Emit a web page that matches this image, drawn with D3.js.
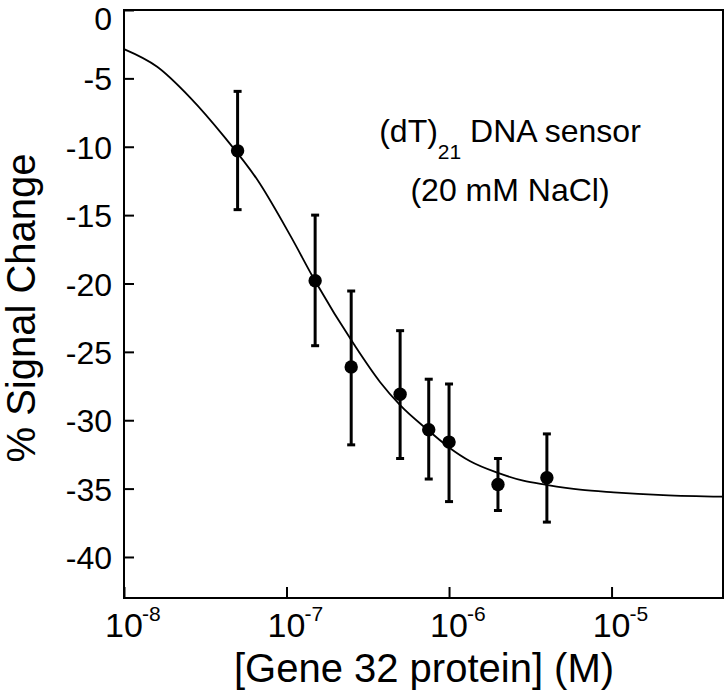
<!DOCTYPE html>
<html>
<head>
<meta charset="utf-8">
<script src="https://cdn.jsdelivr.net/npm/d3@7"></script>
<style>
  body { margin: 0; background: #fff; }
  text { font-family: "Liberation Sans", Arial, sans-serif; fill: #000; }
</style>
</head>
<body>
<script>
    // measured data points: concentration (M) and % signal change
    const conc = [5e-8, 1.5e-7, 2.5e-7, 5e-7, 7.5e-7, 1e-6, 2e-6, 4e-6];
    const signal = [-10.3, -19.8, -26.1, -28.1, -30.7, -31.6, -34.7, -34.2];
    const errTop = [-5.95, -15.0, -20.55, -23.45, -27.0, -27.35, -32.8, -31.0];
    const errBottom = [-14.6, -24.55, -31.8, -32.8, -34.3, -35.95, -36.6, -37.45];

    // fitted curve
    const fitConc = [1e-8, 1.6e-8, 2.57e-8, 4.12e-8, 6.6e-8, 1.06e-7, 1.5e-7, 2.6e-7, 3.76e-7,
      5e-7, 7.5e-7, 1e-6, 1.35e-6, 2e-6, 2.86e-6, 3.97e-6, 6.4e-6, 1.03e-5, 2.08e-5, 4.85e-5];
    const fitSignal = [-2.86, -4.15, -6.44, -9.24, -12.4, -16.54, -19.82, -24.45, -27.2,
      -28.9, -30.77, -31.99, -33.0, -33.85, -34.42, -34.72, -35.08, -35.27, -35.47, -35.59];

    // axis ticks
    const xTicks = [1e-8, 1e-7, 1e-6, 1e-5];
    const xExponents = ["-8", "-7", "-6", "-5"];
    const yTicks = [0, -5, -10, -15, -20, -25, -30, -35, -40];

    const width = 725;
    const height = 692;
    const plotL = 124, plotR = 723, plotT = 10, plotB = 598;

    const svg = d3.select("body")
      .append("svg")
      .attr("width", width)
      .attr("height", height);

    const x = d3.scaleLog().domain([1e-8, 4.85e-5]).range([plotL, plotR]);
    const y = d3.scaleLinear().domain([-43, 0]).range([plotB, plotT]);

    // y axis, inward ticks
    const yAxis = svg.append("g")
      .attr("transform", `translate(${plotL},0)`)
      .call(d3.axisLeft(y).tickValues(yTicks).tickSize(-10).tickPadding(12).tickFormat(d => d));
    yAxis.select(".domain").remove();
    yAxis.selectAll(".tick line").attr("stroke", "#000").attr("stroke-width", 2);
    yAxis.selectAll(".tick text")
      .attr("font-size", 32)
      .attr("font-family", '"Liberation Sans", Arial, sans-serif')
      .attr("dy", d => d === 0 ? "0.6em" : "0.36em");

    // x axis, inward ticks and custom labels
    const xAxis = svg.append("g")
      .attr("transform", `translate(0,${plotB})`)
      .call(d3.axisBottom(x).tickValues(xTicks).tickSize(-11).tickFormat(""));
    xAxis.select(".domain").remove();
    xAxis.selectAll(".tick line").attr("stroke", "#000").attr("stroke-width", 2);

    const xLab = svg.append("g");
    xLab.selectAll("text.base")
      .data(xTicks)
      .enter()
      .append("text")
      .attr("class", "base")
      .attr("x", d => x(d))
      .attr("y", 637)
      .attr("text-anchor", "middle")
      .attr("font-size", 34)
      .text("10");
    xLab.selectAll("text.exp")
      .data(xTicks)
      .enter()
      .append("text")
      .attr("class", "exp")
      .attr("x", d => x(d) + 18)
      .attr("y", 621)
      .attr("font-size", 21)
      .text((d, i) => xExponents[i]);

    // frame
    svg.append("rect")
      .attr("x", plotL)
      .attr("y", plotT)
      .attr("width", plotR - plotL)
      .attr("height", plotB - plotT)
      .attr("fill", "none")
      .attr("stroke", "#000")
      .attr("stroke-width", 2);

    // fitted curve
    const fit = fitConc.map((c, i) => ({ c: c, s: fitSignal[i] }));
    svg.append("path")
      .datum(fit)
      .attr("fill", "none")
      .attr("stroke", "#000")
      .attr("stroke-width", 1.8)
      .attr("d", d3.line().x(d => x(d.c)).y(d => y(d.s)).curve(d3.curveMonotoneX));

    // error bars
    const pts = conc.map((c, i) => ({ c: c, s: signal[i], hi: errTop[i], lo: errBottom[i] }));
    const bars = svg.append("g").attr("stroke", "#000").attr("stroke-width", 3);
    bars.selectAll("line.v")
      .data(pts)
      .enter()
      .append("line")
      .attr("x1", d => x(d.c))
      .attr("x2", d => x(d.c))
      .attr("y1", d => y(d.hi))
      .attr("y2", d => y(d.lo));
    bars.selectAll("line.capT")
      .data(pts)
      .enter()
      .append("line")
      .attr("x1", d => x(d.c) - 4)
      .attr("x2", d => x(d.c) + 4)
      .attr("y1", d => y(d.hi))
      .attr("y2", d => y(d.hi));
    bars.selectAll("line.capB")
      .data(pts)
      .enter()
      .append("line")
      .attr("x1", d => x(d.c) - 4)
      .attr("x2", d => x(d.c) + 4)
      .attr("y1", d => y(d.lo))
      .attr("y2", d => y(d.lo));

    // points
    svg.selectAll("circle")
      .data(pts)
      .enter()
      .append("circle")
      .attr("cx", d => x(d.c))
      .attr("cy", d => y(d.s))
      .attr("r", 6.7)
      .attr("fill", "#000");

    // annotation
    const note = svg.append("text")
      .attr("x", 510)
      .attr("y", 142)
      .attr("text-anchor", "middle")
      .attr("font-size", 32);
    note.append("tspan").text("(dT)");
    note.append("tspan").attr("font-size", 21).attr("dy", 17).text("21");
    note.append("tspan").attr("dy", -17).text(" DNA sensor");

    svg.append("text")
      .attr("x", 510)
      .attr("y", 201)
      .attr("text-anchor", "middle")
      .attr("font-size", 32)
      .text("(20 mM NaCl)");

    // axis titles
    svg.append("text")
      .attr("x", 424)
      .attr("y", 682)
      .attr("text-anchor", "middle")
      .attr("font-size", 40)
      .text("[Gene 32 protein] (M)");

    svg.append("text")
      .attr("transform", "translate(35,308) rotate(-90)")
      .attr("text-anchor", "middle")
      .attr("font-size", 40)
      .text("% Signal Change");
</script>
</body>
</html>
